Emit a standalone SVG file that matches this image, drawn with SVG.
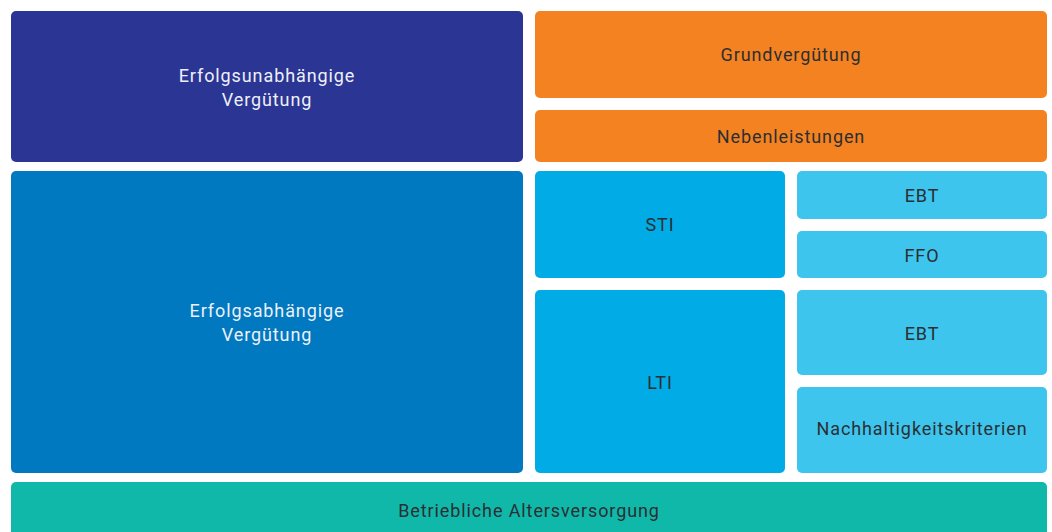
<svg xmlns="http://www.w3.org/2000/svg" width="1052" height="532" viewBox="0 0 1052 532">
<style>
text{font-family:"Roboto","Liberation Sans",sans-serif;font-size:18px;text-anchor:middle;letter-spacing:0.9px}
.w{fill:#eef0f8}
.d{fill:#2b2f33}
</style>
<rect width="1052" height="532" fill="#ffffff"/>
<g id="erfolgsunabhaengig"><rect x="11" y="11" width="512" height="151" rx="5" fill="#2b3594"/><text class="w" x="267" y="82">Erfolgsunabhängige</text><text class="w" x="267" y="106">Vergütung</text></g>
<g id="grundverguetung"><rect x="535" y="11" width="512" height="87" rx="5" fill="#f58220"/><text class="d" x="791" y="61">Grundvergütung</text></g>
<g id="nebenleistungen"><rect x="535" y="110" width="512" height="52" rx="5" fill="#f58220"/><text class="d" x="791" y="143">Nebenleistungen</text></g>
<g id="erfolgsabhaengig"><rect x="11" y="171" width="512" height="302" rx="5" fill="#0079c1"/><text class="w" x="267" y="317">Erfolgsabhängige</text><text class="w" x="267" y="341">Vergütung</text></g>
<g id="sti"><rect x="535" y="171" width="250" height="107" rx="5" fill="#00abe6"/><text class="d" x="660" y="231">STI</text></g>
<g id="lti"><rect x="535" y="290" width="250" height="183" rx="5" fill="#00abe6"/><text class="d" x="660" y="389">LTI</text></g>
<g id="ebt1"><rect x="797" y="171" width="250" height="48" rx="5" fill="#3dc5ee"/><text class="d" x="922" y="202">EBT</text></g>
<g id="ffo"><rect x="797" y="231" width="250" height="47" rx="5" fill="#3dc5ee"/><text class="d" x="922" y="262">FFO</text></g>
<g id="ebt2"><rect x="797" y="290" width="250" height="85" rx="5" fill="#3dc5ee"/><text class="d" x="922" y="340">EBT</text></g>
<g id="nachhaltigkeit"><rect x="797" y="387" width="250" height="86" rx="5" fill="#3dc5ee"/><text class="d" x="922" y="435">Nachhaltigkeitskriterien</text></g>
<g id="bav"><rect x="11" y="482" width="1036" height="70" rx="5" fill="#10b8a9"/><text class="d" x="529" y="517">Betriebliche Altersversorgung</text></g>
<g id="connectors"></g>
</svg>
